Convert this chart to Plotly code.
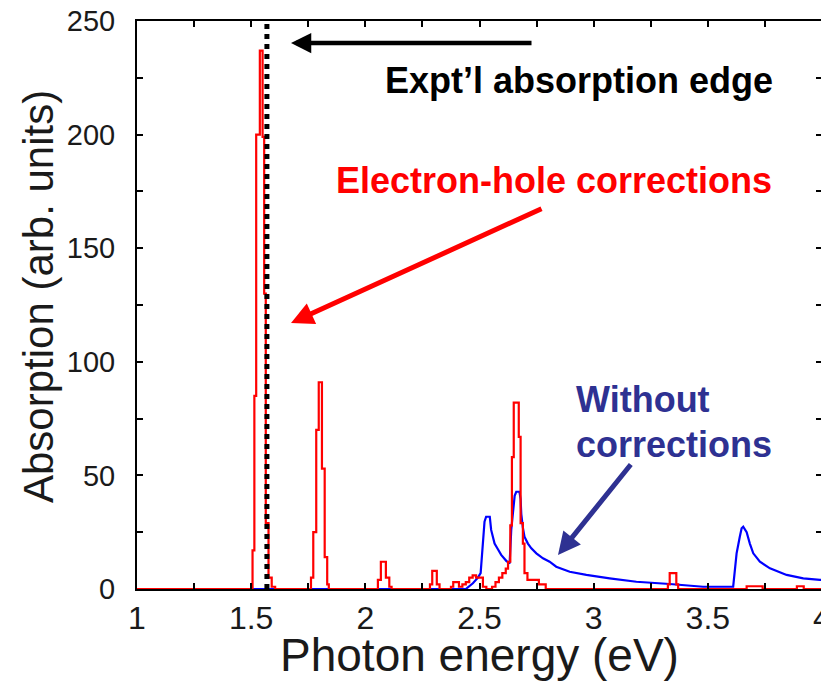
import plotly.graph_objects as go

# ---------------- data ----------------
# Red curve: with electron-hole corrections (step histogram)
red_energy = [1.000, 1.500, 1.506, 1.514, 1.522, 1.538, 1.550, 1.557, 1.564, 1.576, 1.590, 1.605,
              1.755, 1.762, 1.772, 1.785, 1.796, 1.810, 1.822, 1.833, 1.840,
              2.050, 2.055, 2.068, 2.090, 2.105, 2.115,
              2.278, 2.283, 2.293, 2.313, 2.325,
              2.375, 2.385, 2.410, 2.425, 2.440, 2.455, 2.470, 2.485, 2.515, 2.530,
              2.555, 2.570, 2.585, 2.600, 2.615, 2.625, 2.635, 2.642, 2.650, 2.672,
              2.680, 2.690, 2.697, 2.710, 2.760, 2.790,
              3.325, 3.333, 3.362, 3.370,
              3.670, 3.740, 3.890, 3.920, 4.000]
red_absorption = [0, 0, 17, 85, 200, 237, 199, 130, 29, 5, 1, 0,
                  0, 5, 25, 70, 91, 53, 14, 2, 0,
                  0, 4, 12, 5, 1, 0,
                  0, 2, 8, 2, 0,
                  1, 3, 1, 2, 3, 5, 6, 5, 1, 0,
                  1, 3, 5, 7, 9, 12, 28, 58, 82, 67,
                  29, 20, 7, 4, 2, 0,
                  2, 7, 2, 0,
                  1.2, 0, 1.2, 0, 0]

# Blue curve: without corrections
blue_energy = [1.000, 2.440, 2.471, 2.493, 2.505, 2.514, 2.522, 2.529, 2.545, 2.551, 2.558,
               2.566, 2.580, 2.595, 2.617, 2.632, 2.639, 2.654, 2.661, 2.675, 2.680, 2.683,
               2.690, 2.697, 2.712, 2.727, 2.749, 2.778, 2.807, 2.836, 2.895, 2.968, 3.070,
               3.187, 3.333, 3.479, 3.611, 3.626, 3.640, 3.648, 3.655, 3.670, 3.684, 3.699,
               3.728, 3.772, 3.845, 3.918, 3.991, 4.000]
blue_absorption = [0, 0, 2.5, 5, 7, 18.6, 29.6, 31.8, 31.8, 26, 23,
                   20, 17.6, 15, 12.4, 11.3, 26, 41, 42.8, 42.8, 39.6, 33,
                   27, 23, 20, 17.9, 15.7, 13.5, 12, 9.8, 7.6, 6.2, 4.7,
                   3.2, 2.2, 1.0, 1.0, 15.7, 23, 26.7, 27.4, 25, 20, 15.7,
                   12, 9.1, 6.2, 4.7, 4, 4]

# Experimental absorption edge (eV)
edge_energy = 1.569
edge_span = [0, 250]

x_tick_labels = ["1", "1.5", "2", "2.5", "3", "3.5", "4"]
x_tick_values = [1, 1.5, 2, 2.5, 3, 3.5, 4]
y_tick_values = [0, 50, 100, 150, 200, 250]

# ---------------- layout helpers ----------------
# page has an 8px body margin: figure origin sits at page (8, 8)
OFF = 8
W, H = 829 - OFF, 681 - OFF
L, T = 137 - OFF, 21 - OFF          # plot left / top in figure px
R = W - (822 - OFF)                 # plot right at page x = 822
B = H - (589 - OFF)                 # plot bottom at page y = 589
PW, PH = W - L - R, H - T - B


def paper(xp, yp):
    """page pixel -> paper coordinates"""
    return (xp - OFF - L) / PW, (H - B - (yp - OFF)) / PH


FONT = "Liberation Sans, Arial, sans-serif"
NAVY = "#2e3192"

fig = go.Figure()

fig.add_trace(go.Scatter(x=blue_energy, y=blue_absorption, mode="lines",
                         line=dict(color="#0000ff", width=2.2), showlegend=False))
fig.add_trace(go.Scatter(x=red_energy, y=red_absorption, mode="lines",
                         line=dict(color="#ff0000", width=2.2, shape="hv"), showlegend=False))
fig.add_trace(go.Scatter(x=[edge_energy, edge_energy], y=edge_span, mode="lines",
                         line=dict(color="black", width=5, dash="5px,5px"), showlegend=False))

axis_common = dict(showline=True, linecolor="black", linewidth=2, mirror="ticks",
                   ticks="inside", ticklen=6, tickwidth=2, tickcolor="black",
                   showgrid=False, zeroline=False, automargin=False,
                   ticklabeloverflow="allow")

fig.update_xaxes(range=[1, 4], tickvals=x_tick_values, ticktext=x_tick_labels,
                 minor=dict(dtick=0.25, ticks="inside", ticklen=6, tickwidth=2, tickcolor="black"),
                 tickfont=dict(family=FONT, size=32, color="#1a1a1a"),
                 ticklabelstandoff=0, **axis_common)
fig.update_yaxes(range=[0, 250], tickvals=y_tick_values,
                 minor=dict(dtick=25, ticks="inside", ticklen=6, tickwidth=2, tickcolor="black"),
                 tickfont=dict(family=FONT, size=29, color="#1a1a1a"),
                 ticklabelstandoff=14, **axis_common)

annotations = []

# axis titles
tx, ty = paper(38, 297)
annotations.append(dict(xref="paper", yref="paper", x=tx, y=ty, text="Absorption (arb. units)",
                        showarrow=False, textangle=-90, xanchor="center", yanchor="middle",
                        font=dict(family=FONT, size=42, color="#1a1a1a")))
tx, ty = paper(479, 655)
annotations.append(dict(xref="paper", yref="paper", x=tx, y=ty, text="Photon energy (eV)",
                        showarrow=False, xanchor="center", yanchor="middle",
                        font=dict(family=FONT, size=46, color="#1a1a1a")))

# labels
tx, ty = paper(579, 80)
annotations.append(dict(xref="paper", yref="paper", x=tx, y=ty, text="<b>Expt’l absorption edge</b>",
                        showarrow=False, xanchor="center", yanchor="middle",
                        font=dict(family=FONT, size=36, color="black")))
tx, ty = paper(554, 180)
annotations.append(dict(xref="paper", yref="paper", x=tx, y=ty, text="<b>Electron-hole corrections</b>",
                        showarrow=False, xanchor="center", yanchor="middle",
                        font=dict(family=FONT, size=36, color="#ff0000")))
tx, ty = paper(574, 399)
annotations.append(dict(xref="paper", yref="paper", x=tx, y=ty, text="<b>Without</b>",
                        showarrow=False, xanchor="left", yanchor="middle",
                        font=dict(family=FONT, size=36, color=NAVY)))
tx, ty = paper(574, 444)
annotations.append(dict(xref="paper", yref="paper", x=tx, y=ty, text="<b>corrections</b>",
                        showarrow=False, xanchor="left", yanchor="middle",
                        font=dict(family=FONT, size=36, color=NAVY)))

# arrows (tip position in page px, tail offset in px)
arrows = [((291, 43), (242, 0), "black", 4.5),
          ((291, 323), (252, -115), "#ff0000", 5),
          ((558, 555), (74, -92), NAVY, 5)]
for (xp, yp), (axp, ayp), col, w in arrows:
    px_, py_ = paper(xp, yp)
    annotations.append(dict(xref="paper", yref="paper", x=px_, y=py_, text="",
                            showarrow=True, arrowhead=2, arrowsize=0.9, arrowwidth=w,
                            arrowcolor=col, ax=axp, ay=ayp, standoff=0))

fig.update_layout(width=W, height=H, margin=dict(l=L, r=R, t=T, b=B, autoexpand=False),
                  plot_bgcolor="white", paper_bgcolor="white",
                  annotations=annotations, showlegend=False)

fig.write_html("out.html")
